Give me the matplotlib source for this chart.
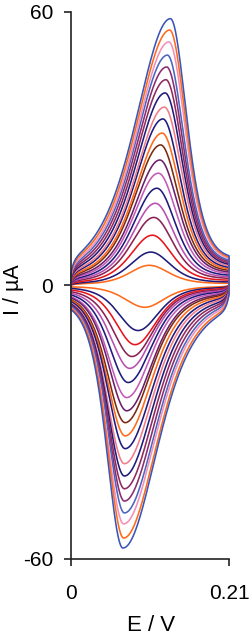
import numpy as np
import matplotlib.pyplot as plt

plt.rcParams['font.family'] = ['Liberation Sans', 'DejaVu Sans']

# peak currents (uA), smallest scan to largest
ipa = [4.4, 7.3, 11.0, 14.9, 18.0, 21.3, 24.6, 27.5, 30.8, 33.4,
       36.5, 39.1, 42.2, 45.1, 47.9, 50.5, 53.4, 56.0, 58.5]
ipc = [-4.8, -9.9, -13.0, -15.6, -18.2, -21.3, -24.6, -27.5, -30.1, -33.0,
       -35.8, -39.1, -41.8, -44.6, -47.3, -49.9, -52.3, -55.4, -57.6]
# peak potentials (V)
epa = [0.104, 0.106, 0.108, 0.110, 0.112, 0.114, 0.116, 0.118, 0.119, 0.121,
       0.122, 0.124, 0.125, 0.126, 0.127, 0.128, 0.130, 0.131, 0.132]
epc = [0.098, 0.089, 0.085, 0.081, 0.078, 0.076, 0.074, 0.074, 0.072, 0.072,
       0.072, 0.071, 0.071, 0.071, 0.071, 0.071, 0.070, 0.070, 0.069]
colors = ['#ff6a1a', '#1f1b7a', '#e8141b', '#8b2252', '#b84fb0', '#1f1b7a',
          '#c25bb7', '#6b1f6b', '#7b2a12', '#ff6a1a', '#1e1b7f', '#f07c8a',
          '#1f1b7a', '#8e2a5e', '#8a2c6e', '#4a67c0', '#f48fb8', '#ff6a1a',
          '#3b55b8']

x_ticks = [0, 0.21]
x_labels = ['0', '0.21']
y_ticks = [-60, 0, 60]
y_labels = ['-60', '0', '60']

e_lo, e_hi = 0.0, 0.21


def peak(E, ep, s_left, s_right):
    s = np.where(E < ep, s_left, s_right)
    return 1.0 / np.cosh((E - ep) / s) ** 2


E = np.linspace(e_lo, e_hi, 500)
n = len(ipa)

fig = plt.figure(figsize=(2.5, 6.4), dpi=100)
ax = fig.add_axes([0.284, 0.1266, 0.632, 0.855])

for k in range(n):
    t = k / (n - 1)
    f = ipa[k] / ipa[-1]
    s_broad = 0.035 + 0.026 * t
    s_sharp = 0.035 - 0.006 * t

    def base_up(x):
        return f * (3.0 + 12 * x) * (1 - np.exp(-(x - e_lo) / 0.004))

    def base_lo(x):
        return -f * 3.5 * (1 - np.exp(-(e_hi - x) / 0.004))

    a = ipa[k] - base_up(epa[k])
    c = base_lo(epc[k]) - ipc[k]
    up = base_up(E) + a * peak(E, epa[k], s_broad, s_sharp)
    lo = base_lo(E) - c * peak(E, epc[k], s_sharp, s_broad)
    xs = np.concatenate([E, E[::-1], [E[0]]])
    ys = np.concatenate([up, lo[::-1], [up[0]]])
    ax.plot(xs, ys, color=colors[k], lw=1.15, clip_on=False)

ax.set_xlim(e_lo, e_hi)
ax.set_ylim(-60, 60)
ax.set_xticks(x_ticks)
ax.set_xticklabels(x_labels)
ax.set_yticks(y_ticks)
ax.set_yticklabels(y_labels)
for side in ['top', 'right']:
    ax.spines[side].set_visible(False)
for side in ['left', 'bottom']:
    ax.spines[side].set_linewidth(1.2)
    ax.spines[side].set_color('#222222')
ax.tick_params(axis='x', length=5, width=1.2, pad=13, labelsize=15, color='#222222')
ax.tick_params(axis='y', length=5, width=1.2, pad=8, labelsize=15, color='#222222')

fig.text(0.604, 0.022, 'E / V', ha='center', va='center', fontsize=16)
fig.text(0.052, 0.548, 'I / µA', ha='center', va='center', rotation=90, fontsize=15.5)

fig.savefig('out.png', dpi=100)
